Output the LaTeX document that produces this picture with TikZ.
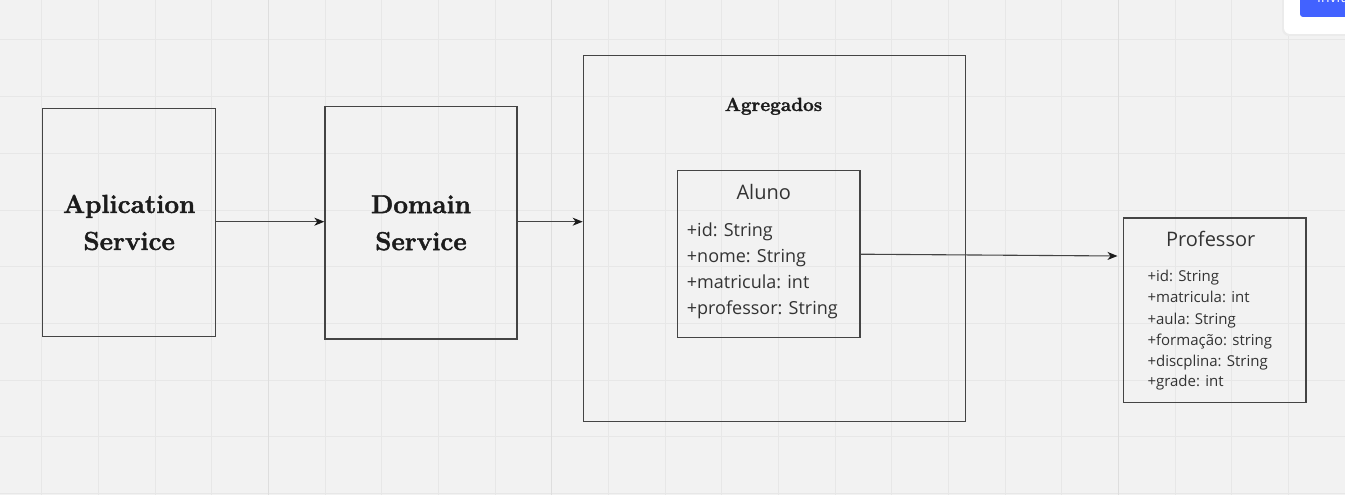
\documentclass[tikz,border=0pt]{standalone}
\usepackage{fontspec}
\newfontfamily\uml{Open Sans}
\newfontfamily\heavy{Latin Modern Roman}[BoldFeatures={FakeBold=1.6}]
\usetikzlibrary{arrows.meta}
\definecolor{bg}{HTML}{F2F2F2}
\definecolor{gridminor}{HTML}{E7E7E7}
\definecolor{gridmajor}{HTML}{DEDEDE}
\definecolor{stroke}{HTML}{444444}
\definecolor{ink}{HTML}{1C1C1C}
\definecolor{sansink}{HTML}{333333}
\definecolor{btnblue}{HTML}{4262FF}
\tikzset{
  box/.style={draw=stroke, line width=1.3pt, fill=none, inner sep=0pt},
  titletext/.style={text=ink, align=center, font=\heavy\fontsize{26}{37}\selectfont\bfseries},
  aggtext/.style={text=ink, anchor=base, font=\heavy\fontsize{19}{22}\selectfont\bfseries, inner sep=0pt},
  umltitle/.style={text=sansink, anchor=base, inner sep=0pt, font=\uml\fontsize{20}{24}\selectfont},
  umlattr/.style={text=sansink, anchor=base west, inner sep=0pt, font=\uml\fontsize{18}{22}\selectfont},
  umlattrsmall/.style={text=sansink, anchor=base west, inner sep=0pt, font=\uml\fontsize{15}{18}\selectfont},
  arr/.style={draw=stroke, line width=1.1pt, -{Stealth[length=10pt,width=8pt,inset=3pt,fill=ink,color=ink]}}
}
\begin{document}
\begin{tikzpicture}[x=1pt,y=-1pt]
\useasboundingbox (0,0) rectangle (1345,495);
\clip (0,0) rectangle (1345,495);
% background and grid
\fill[bg] (0,0) rectangle (1345,495);
\foreach \k in {0,...,23} {
  \pgfmathsetmacro\gx{41.7+\k*56.667}
  \draw[gridminor, line width=1pt] (\gx,0) -- (\gx,495);
}
\foreach \k in {0,...,8} {
  \pgfmathsetmacro\gy{40+\k*56.667}
  \draw[gridminor, line width=1pt] (0,\gy) -- (1345,\gy);
}
\foreach \k in {4,9,19} {
  \pgfmathsetmacro\gx{41.7+\k*56.667}
  \draw[gridmajor, line width=1.2pt] (\gx,0) -- (\gx,495);
}
% top-right panel
\fill[black!8, rounded corners=7pt] (1282,-10) rectangle (1360,36);
\fill[white, rounded corners=6pt] (1284,-10) rectangle (1360,34);
\fill[btnblue, rounded corners=3pt] (1300,-12) rectangle (1360,17);
\node[anchor=base west, inner sep=0pt, text=white, font=\uml\fontsize{14}{16}\selectfont] (invite) at (1317,3) {Invite};
% boxes
\node[box, minimum width=173pt, minimum height=228.4pt, titletext] (app) at (129.2,222.5) {Aplication\\Service};
\node[box, minimum width=192pt, minimum height=232.3pt, titletext] (dom) at (421,222.85) {Domain\\Service};
\node[box, minimum width=382.4pt, minimum height=366pt] (agg) at (774.5,238.7) {};
\node[aggtext] (aggt) at (773.5,111) {Agregados};
\node[box, minimum width=182.3pt, minimum height=167pt] (aluno) at (768.85,254.2) {};
\node[umltitle] (alunot) at (763.7,199) {Aluno};
\node[umlattr] (a1) at (686.7,236.7) {+id: String};
\node[umlattr] (a2) at (686.7,262.5) {+nome: String};
\node[umlattr] (a3) at (686.7,288) {+matricula: int};
\node[umlattr] (a4) at (686.7,314) {+professor: String};
\node[box, minimum width=182.3pt, minimum height=184.7pt] (prof) at (1214.85,310.35) {};
\node[umltitle] (proft) at (1210.7,246.7) {Professor};
\node[umlattrsmall] (p1) at (1147.3,281.7) {+id: String};
\node[umlattrsmall] (p2) at (1147.3,302.5) {+matricula: int};
\node[umlattrsmall] (p3) at (1147.3,324) {+aula: String};
\node[umlattrsmall] (p4) at (1147.3,345) {+formação: string};
\node[umlattrsmall] (p5) at (1147.3,366.3) {+discplina: String};
\node[umlattrsmall] (p6) at (1147.3,386.7) {+grade: int};
% connectors
\coordinate (appout) at (215.7,221.7);
\draw[arr] (appout) -- (appout -| dom.west);
\draw[arr] (appout -| dom.east) -- (appout -| agg.west);
\coordinate (pin) at (1117.5,256);
\draw[arr] (aluno.east) -- (pin);
\end{tikzpicture}
\end{document}
